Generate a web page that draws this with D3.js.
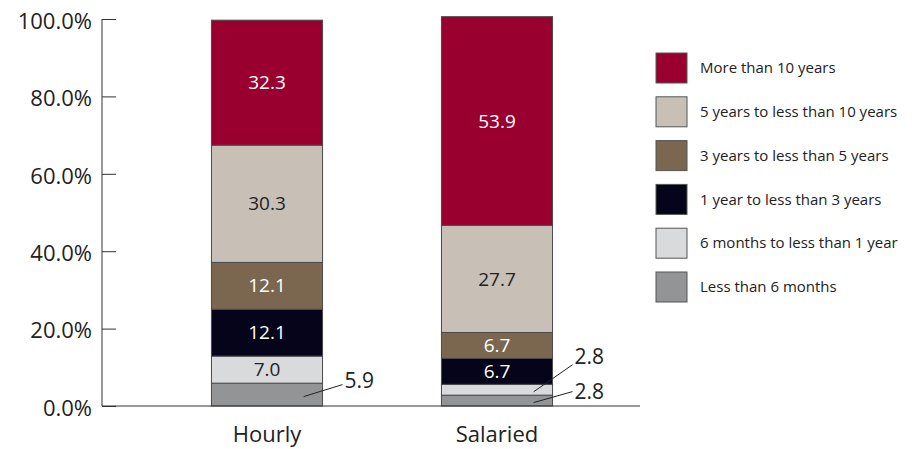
<!DOCTYPE html>
<html>
<head>
<meta charset="utf-8">
<script src="https://cdn.jsdelivr.net/npm/d3@7"></script>
<style>
  body { margin: 0; background: #fff; }
  svg { font-family: "Open Sans", "DejaVu Sans", sans-serif; }
</style>
</head>
<body>
<div class="chart"></div>
<script>
// categories and stacked values (bottom to top)
const groups = ["Hourly", "Salaried"];
const stages = [
  "Less than 6 months",
  "6 months to less than 1 year",
  "1 year to less than 3 years",
  "3 years to less than 5 years",
  "5 years to less than 10 years",
  "More than 10 years"
];
const hourly = [5.9, 7.0, 12.1, 12.1, 30.3, 32.3];
const salaried = [2.8, 2.8, 6.7, 6.7, 27.7, 53.9];
const yTicks = [0, 20, 40, 60, 80, 100];

const stageColor = ["#929496", "#d9dadc", "#05041a", "#7b6750", "#c8c0b6", "#990030"];
const labelColor = ["#222", "#222", "#fff", "#fff", "#222", "#fff"];

const width = 918, height = 449;

const svg = d3.select(".chart")
  .append("svg")
  .attr("width", width)
  .attr("height", height);

const y = d3.scaleLinear().domain([0, 100]).range([406, 19]);
const x = d3.scaleBand()
  .domain(groups)
  .range([152, 612])
  .paddingInner(0.517)
  .paddingOuter(0.2585);

const colorScale = d3.scaleOrdinal().domain(stages).range(stageColor);

// build stacked rows
const rows = groups.map((g, i) => {
  const vals = i === 0 ? hourly : salaried;
  const row = { group: g };
  stages.forEach((s, j) => row[s] = vals[j]);
  return row;
});
const series = d3.stack().keys(stages)(rows);

// bars
series.forEach(s => {
  svg.append("g")
    .selectAll("rect")
    .data(s)
    .enter().append("rect")
    .attr("x", d => x(d.data.group))
    .attr("y", d => y(d[1]))
    .attr("width", x.bandwidth())
    .attr("height", d => y(d[0]) - y(d[1]))
    .attr("fill", colorScale(s.key))
    .attr("stroke", "#4a4a4a")
    .attr("stroke-width", 1);
});

// labels inside segments (skip small ones)
series.forEach((s, si) => {
  s.forEach(d => {
    const v = d[1] - d[0];
    if (v < 5) return;
    if (si === 0 && d.data.group === "Hourly") return;
    svg.append("text")
      .attr("x", x(d.data.group) + x.bandwidth() / 2)
      .attr("y", y((d[0] + d[1]) / 2))
      .attr("dy", "0.35em")
      .attr("text-anchor", "middle")
      .attr("font-size", 19)
      .attr("fill", labelColor[si])
      .text(v.toFixed(1));
  });
});

// callout labels for small segments
const callouts = [
  { group: "Hourly", stage: 0, lineDy: -12, textDy: -4 },
  { group: "Salaried", stage: 1, lineDy: -27, textDy: -8 },
  { group: "Salaried", stage: 0, lineDy: -11, textDy: 0 }
];
callouts.forEach(c => {
  const d = series[c.stage][groups.indexOf(c.group)];
  const x0 = x(c.group) + x.bandwidth() * 0.83;
  const y0 = y((d[0] + d[1]) / 2) + 2;
  const x1 = x(c.group) + x.bandwidth() + 20;
  const y1 = y0 + c.lineDy;
  svg.append("line")
    .attr("x1", x0).attr("y1", y0)
    .attr("x2", x1).attr("y2", y1)
    .attr("stroke", "#222")
    .attr("stroke-width", 1);
  svg.append("text")
    .attr("x", x1 + 2)
    .attr("y", y1 + c.textDy)
    .attr("dy", "0.35em")
    .attr("font-size", 21)
    .attr("fill", "#222")
    .text((d[1] - d[0]).toFixed(1));
});

// y axis
const axisG = svg.append("g").attr("transform", "translate(102,0)");
axisG.call(d3.axisRight(y).tickValues(yTicks).tickSize(14).tickFormat(""));
axisG.select(".domain").attr("d", `M0,${y(100)}V${y(0)}`).attr("stroke", "#333");
axisG.selectAll("line").attr("stroke", "#333");

svg.append("g")
  .selectAll("text")
  .data(yTicks)
  .enter().append("text")
  .attr("x", 92)
  .attr("y", d => y(d) + 2)
  .attr("dy", "0.35em")
  .attr("text-anchor", "end")
  .attr("font-size", 22)
  .attr("fill", "#222")
  .text(d => d.toFixed(1) + "%");

// baseline
svg.append("line")
  .attr("x1", 102).attr("x2", 640)
  .attr("y1", y(0)).attr("y2", y(0))
  .attr("stroke", "#333");

// category labels
svg.append("g")
  .selectAll("text")
  .data(groups)
  .enter().append("text")
  .attr("x", d => x(d) + x.bandwidth() / 2)
  .attr("y", 442)
  .attr("text-anchor", "middle")
  .attr("font-size", 22)
  .attr("fill", "#222")
  .text(d => d);

// legend (top to bottom: longest tenure first)
const legendItems = stages.slice().reverse();
const legend = svg.append("g").attr("transform", "translate(656,53)");
const item = legend.selectAll("g")
  .data(legendItems)
  .enter().append("g")
  .attr("transform", (d, i) => `translate(0,${i * 43.8})`);
item.append("rect")
  .attr("width", 31)
  .attr("height", 30)
  .attr("fill", d => colorScale(d))
  .attr("stroke", "#555");
item.append("text")
  .attr("x", 44)
  .attr("y", 15)
  .attr("dy", "0.35em")
  .attr("font-size", 15)
  .attr("fill", "#222")
  .text(d => d);
</script>
</body>
</html>
